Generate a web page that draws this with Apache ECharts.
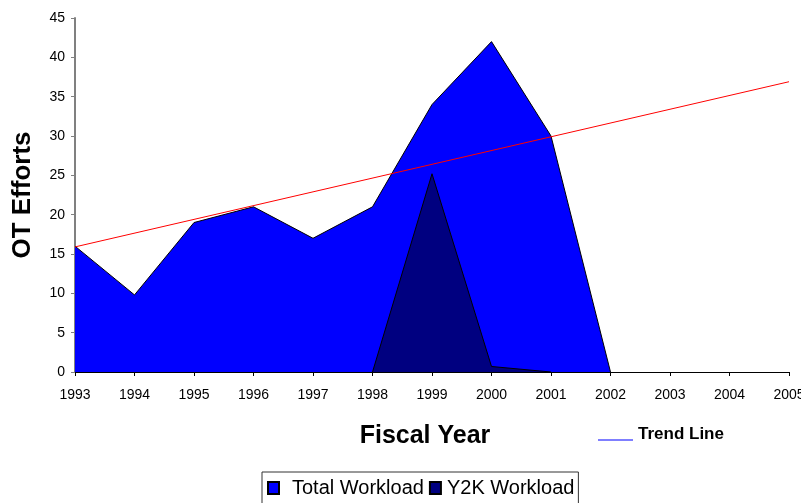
<!DOCTYPE html>
<html><head><meta charset="utf-8">
<script src="https://cdn.jsdelivr.net/npm/echarts@6/dist/echarts.min.js"></script>
<style>html,body{margin:0;padding:0;background:#fff}#c{width:801px;height:503px}</style>
</head><body><div id="c"></div>
<script>
const years = [1993,1994,1995,1996,1997,1998,1999,2000,2001,2002];
const totalWorkload = [16,9.8,19,21,17,21,34,42,30,0];
const y2kYears = [1998,1999,2000,2001];
const y2kWorkload = [0,25.2,0.7,0];
const trendYears = [1993,2005];
const trendValues = [15.9,36.9];

const chart = echarts.init(document.getElementById('c'));
const F = 'Liberation Sans, Arial, sans-serif';
chart.setOption({
  animation:false,
  textStyle:{fontFamily:F},
  grid:{left:75,right:12,top:18,bottom:131,outerBoundsMode:'none',containLabel:false},
  xAxis:{type:'value',min:1993,max:2005,interval:1,
    name:'Fiscal Year',nameLocation:'middle',nameGap:52,
    nameTextStyle:{fontSize:25,fontWeight:'bold',color:'#000',fontFamily:F,padding:[0,14,0,0]},
    axisLine:{lineStyle:{color:'#000',width:1}},
    axisTick:{length:4,lineStyle:{color:'#000'}},
    axisLabel:{color:'#000',fontSize:14,margin:16,fontFamily:F,formatter:v=>String(v)},
    splitLine:{show:false}},
  yAxis:{type:'value',min:0,max:45,interval:5,
    name:'OT Efforts',nameLocation:'middle',nameGap:39,
    nameTextStyle:{fontSize:26,fontWeight:'bold',color:'#000',fontFamily:F},
    axisLine:{show:true,lineStyle:{color:'#808080',width:2}},
    axisTick:{show:true,length:4,lineStyle:{color:'#808080'}},
    axisLabel:{color:'#000',fontSize:14,margin:10,fontFamily:F},
    splitLine:{show:false}},
  legend:[{
    data:[
      {name:'Total Workload',textStyle:{padding:[0,0,0,8]}},
      {name:'Y2K Workload',textStyle:{padding:[0,0,0,1]}}
    ],
    left:262,top:472,orient:'horizontal',
    borderColor:'#333',borderWidth:1,padding:[6,4,14,5],
    itemWidth:11,itemHeight:12,itemGap:5,icon:'rect',
    textStyle:{fontSize:20,color:'#000',fontFamily:F}
  },{
    data:[{name:'Trend Line',icon:'rect',
      itemStyle:{color:'#0000ff',borderWidth:0}}],
    formatter:name=>name+'\n',
    left:593,top:421,itemWidth:35,itemHeight:1,
    textStyle:{fontSize:17,fontWeight:'bold',color:'#000',fontFamily:F,lineHeight:11}
  }],
  series:[
    {name:'Total Workload',type:'line',data:years.map((y,i)=>[y,totalWorkload[i]]),
      symbol:'none',lineStyle:{color:'#000',width:1},
      itemStyle:{color:'#0000ff',borderColor:'#000',borderWidth:1},
      areaStyle:{color:'#0000ff',opacity:1},z:2},
    {name:'Y2K Workload',type:'line',data:y2kYears.map((y,i)=>[y,y2kWorkload[i]]),
      symbol:'none',lineStyle:{color:'#000',width:1},
      itemStyle:{color:'#000080',borderColor:'#000',borderWidth:1},
      areaStyle:{color:'#000080',opacity:1},z:3},
    {name:'Trend Line',type:'line',data:trendYears.map((y,i)=>[y,trendValues[i]]),
      symbol:'none',lineStyle:{color:'#ff0000',width:1},itemStyle:{color:'#ff0000'},z:4}
  ]
});
</script></body></html>
